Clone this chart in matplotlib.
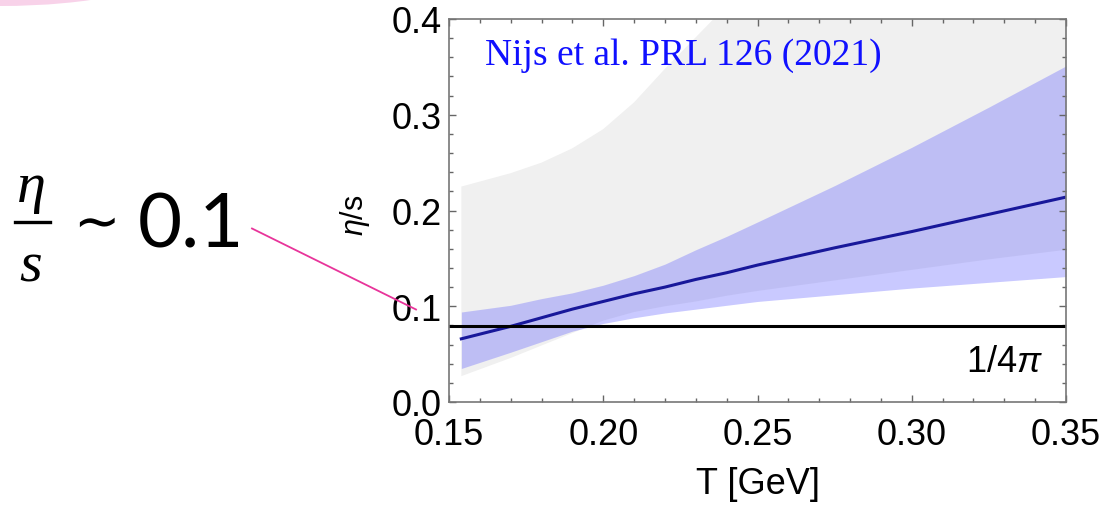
import numpy as np
import matplotlib
matplotlib.use('Agg')
import matplotlib.pyplot as plt
from matplotlib.ticker import MultipleLocator, FormatStrFormatter
from matplotlib.lines import Line2D
from matplotlib.patches import Ellipse

# Values
temps = [0.154, 0.17, 0.18, 0.19, 0.20, 0.21, 0.22, 0.23, 0.24, 0.25, 0.275, 0.30, 0.325, 0.35]
eta_s_mean = [0.066, 0.079, 0.088, 0.097, 0.105, 0.113, 0.120, 0.128, 0.135, 0.143, 0.161, 0.178, 0.196, 0.214]
blue_upper = [0.094, 0.101, 0.108, 0.114, 0.122, 0.132, 0.144, 0.159, 0.173, 0.188, 0.226, 0.266, 0.308, 0.351]
blue_lower = [0.035, 0.052, 0.063, 0.074, 0.082, 0.088, 0.093, 0.097, 0.101, 0.105, 0.112, 0.119, 0.125, 0.131]
gray_upper = [0.225, 0.239, 0.250, 0.265, 0.285, 0.313, 0.348, 0.381, 0.414, 0.445, 0.52, 0.60, 0.68, 0.75]
gray_lower = [0.027, 0.046, 0.059, 0.072, 0.085, 0.094, 0.100, 0.105, 0.111, 0.116, 0.127, 0.138, 0.149, 0.159]
kss_bound = 1 / (4 * np.pi)

x_ticks = [0.15, 0.20, 0.25, 0.30, 0.35]
y_ticks = [0.0, 0.1, 0.2, 0.3, 0.4]

W, H = 1107, 510

plt.rcParams['font.family'] = 'Liberation Sans'
plt.rcParams['mathtext.fontset'] = 'custom'
plt.rcParams['mathtext.rm'] = 'Liberation Sans'
plt.rcParams['mathtext.it'] = 'Liberation Sans:italic'

fig = plt.figure(figsize=(W / 100, H / 100), dpi=100)
ax = fig.add_axes([449 / W, 1 - 403 / H, 617 / W, 383 / H])

# bands
ax.fill_between(temps, gray_lower, gray_upper, color='#f0f0f0', lw=0)
ax.fill_between(temps, blue_lower, blue_upper, color=(0.3, 0.3, 1.0), alpha=0.3, lw=0)
ax.plot(temps, eta_s_mean, color='#18189a', lw=2.2)
ax.axhline(kss_bound, color='black', lw=2.2)

ax.set_xlim(0.15, 0.35)
ax.set_ylim(0.0, 0.4)
ax.set_xticks(x_ticks)
ax.set_yticks(y_ticks)
ax.xaxis.set_major_formatter(FormatStrFormatter('%.2f'))
ax.yaxis.set_major_formatter(FormatStrFormatter('%.1f'))
ax.xaxis.set_minor_locator(MultipleLocator(0.01))
ax.yaxis.set_minor_locator(MultipleLocator(0.02))
ax.tick_params(which='both', direction='in', top=True, right=True, color='#666666', width=1)
ax.tick_params(which='major', length=5)
ax.tick_params(which='minor', length=3)
ax.tick_params(axis='x', which='major', labelsize=26, pad=11)
ax.tick_params(axis='y', which='major', labelsize=26, pad=5)
for sp in ax.spines.values():
    sp.set_color('#777777')
    sp.set_linewidth(1.2)

ax.set_xlabel('T [GeV]', fontsize=26, labelpad=10)
ax.set_ylabel(r'$\it{\eta}$/s', fontsize=22)
ax.yaxis.set_label_coords(-0.125, 0.49)

ax.text(0.058, 0.8825, 'Nijs et al. PRL 126 (2021)', transform=ax.transAxes,
        family='Liberation Serif', fontsize=27, color='#1010ff', va='baseline')
ax.text(0.963, 0.081, r'1/4$\it{\pi}$', transform=ax.transAxes,
        fontsize=26, ha='right', va='baseline')

# left annotation
def fx(px):
    return px / W

def fy(py):
    return 1 - py / H

fig.text(fx(31), fy(202), 'η', family='Liberation Serif', style='italic',
         fontsize=42, ha='center', va='baseline')
fig.add_artist(Line2D([fx(15), fx(50)], [fy(222.7), fy(222.7)], color='black', lw=2.4))
fig.text(fx(31), fy(282), 's', family='Liberation Serif', style='italic',
         fontsize=42, ha='center', va='baseline')
fig.text(fx(96.5), fy(240), '∼', family='DejaVu Sans', fontsize=40, ha='center', va='baseline')
fig.text(fx(138), fy(247), '0.1', family='Lato', fontweight='normal', fontsize=55,
         ha='left', va='baseline')
fig.add_artist(Line2D([fx(252), fx(416)], [fy(229.5), fy(310.5)], color='#e8349a', lw=1.3))

# pink decoration at the top-left corner
fig.add_artist(Ellipse((0, fy(-30)), 332 / W, 74 / H, transform=fig.transFigure,
                       color='#f8d2e9', lw=0))

fig.savefig('out.png', dpi=100)
